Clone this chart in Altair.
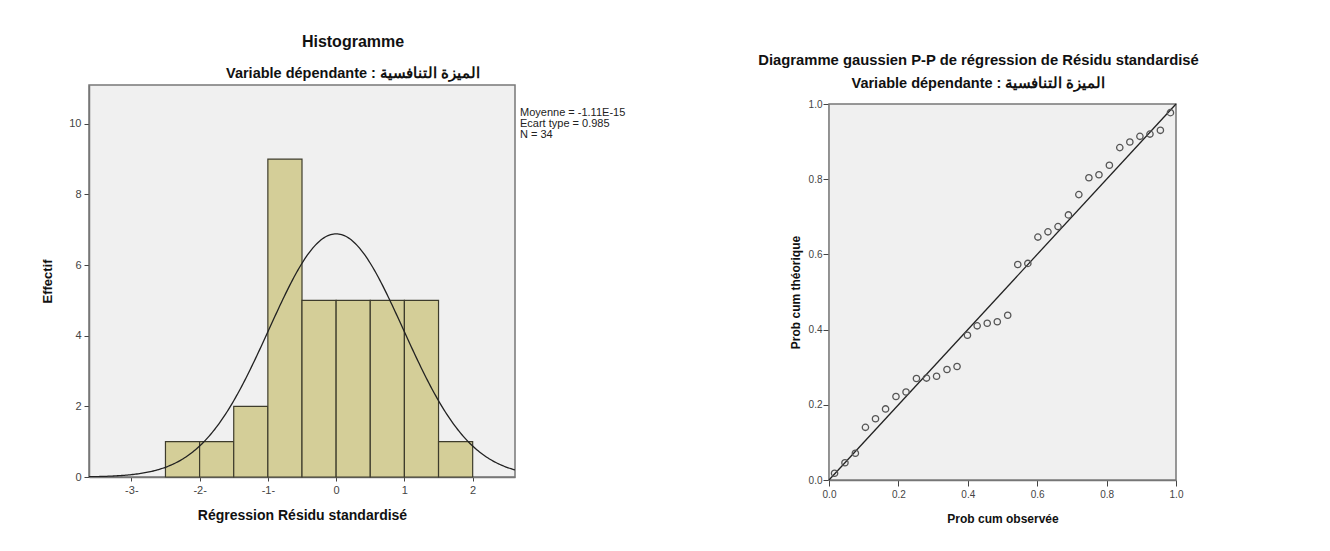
import altair as alt
import pandas as pd

# ---------------- Histogram data ----------------
bin_start = [-2.5, -2.0, -1.5, -1.0, -0.5, 0.0, 0.5, 1.0, 1.5]
bin_end = [-2.0, -1.5, -1.0, -0.5, 0.0, 0.5, 1.0, 1.5, 2.0]
counts = [1, 1, 2, 9, 5, 5, 5, 5, 1]

mean_val = -1.11e-15
sd_val = 0.985
n_val = 34
bin_width = 0.5

stats_lines = ["Moyenne = -1.11E-15", "Ecart type = 0.985", "N = 34"]

hist_x_ticks = [-3, -2, -1, 0, 1, 2]
hist_y_ticks = [0, 2, 4, 6, 8, 10]

# ---------------- P-P plot data ----------------
pp_observed = [0.016, 0.046, 0.076, 0.105, 0.134, 0.163, 0.193, 0.222, 0.252, 0.281,
               0.310, 0.340, 0.369, 0.399, 0.427, 0.456, 0.485, 0.515, 0.544, 0.573,
               0.602, 0.631, 0.660, 0.690, 0.720, 0.749, 0.778, 0.808, 0.838, 0.867,
               0.896, 0.925, 0.955, 0.984]
pp_expected = [0.018, 0.046, 0.071, 0.140, 0.163, 0.189, 0.222, 0.234, 0.270, 0.271,
               0.276, 0.294, 0.302, 0.385, 0.410, 0.417, 0.421, 0.438, 0.573, 0.576,
               0.646, 0.660, 0.674, 0.705, 0.759, 0.804, 0.812, 0.837, 0.884, 0.899,
               0.914, 0.920, 0.930, 0.977]
diag_x = [0.0, 1.0]
diag_y = [0.0, 1.0]
pp_ticks = [0.0, 0.2, 0.4, 0.6, 0.8, 1.0]

FONT = "Liberation Sans"
SUB = "Variable dépendante : الميزة التنافسية"
PLOT_BG = "#F0F0F0"
FRAME = "#777777"

# ---------------- Histogram chart ----------------
HW, HH = 426, 392
x_dom = [-3.62, 2.62]
y_dom = [0, 11.1]

hist_df = pd.DataFrame({"start": bin_start, "end": bin_end, "count": counts})

x_axis = alt.Axis(values=hist_x_ticks, grid=False, title="Régression Résidu standardisé",
                  labelExpr="datum.value < 0 ? '-' + abs(datum.value) + '-' : '' + datum.value",
                  labelFlush=False,
                  labelFontSize=11, labelColor="#444", tickColor="#444", tickSize=4,
                  domainColor=FRAME, domainWidth=1.5, titleFontSize=14, titleFontWeight="bold",
                  titleColor="#111", titlePadding=13, labelPadding=3)
y_axis = alt.Axis(values=hist_y_ticks, grid=False, title="Effectif",
                  labelFontSize=11, labelColor="#444", tickColor="#444", tickSize=5,
                  domainColor=FRAME, domainWidth=1.5, titleFontSize=13, titleFontWeight="bold",
                  titleColor="#111", titlePadding=14, labelPadding=3)

bars = alt.Chart(hist_df).mark_bar(fill="#D4CE98", stroke="#3E3C2C", strokeWidth=1.2).encode(
    x=alt.X("start:Q", scale=alt.Scale(domain=x_dom, nice=False, zero=False), axis=x_axis),
    x2="end:Q",
    y=alt.Y("count:Q", scale=alt.Scale(domain=y_dom, nice=False), axis=y_axis),
    y2=alt.datum(0),
)

curve = alt.Chart(alt.sequence(-3.62, 2.63, 0.02, as_="xv")).transform_calculate(
    dens=f"{n_val * bin_width}/({sd_val}*sqrt(2*PI))*exp(-0.5*pow((datum.xv-({mean_val}))/{sd_val},2))"
).mark_line(color="#222", strokeWidth=1.3, clip=True).encode(
    x="xv:Q", y="dens:Q"
)

stats_df = pd.DataFrame({"t": ["\n".join(stats_lines)]})
stats = alt.Chart(stats_df).mark_text(
    align="left", baseline="top", fontSize=11, font=FONT, color="#222",
    lineBreak="\n", lineHeight=11
).encode(x=alt.value(HW + 5), y=alt.value(22), text="t:N")

hist = alt.layer(bars, curve, stats).properties(
    width=HW, height=HH,
    view=alt.ViewBackground(fill=PLOT_BG, stroke=FRAME, strokeWidth=1.5),
    title=alt.Title("Histogramme", subtitle=SUB, fontSize=16, fontWeight="bold",
                    subtitleFontSize=14.5, subtitleFontWeight="bold", subtitleColor="#111",
                    color="#111", subtitlePadding=16.5, offset=5, dx=51, anchor="middle"),
)

# ---------------- P-P chart ----------------
PW, PH = 347, 376
TOP_GAP = 19          # the P-P frame starts lower than the histogram frame
PH_FULL = PH + TOP_GAP

px_axis = alt.Axis(values=pp_ticks, format=".1f", grid=False, title="Prob cum observée",
                   labelFlush=False,
                   labelFontSize=10, labelColor="#444", tickColor="#444", tickSize=6,
                   domainColor=FRAME, domainWidth=1.5, titleFontSize=12, titleFontWeight="bold",
                   titleColor="#111", titlePadding=14, labelPadding=3)
py_axis = alt.Axis(values=pp_ticks, format=".1f", grid=False, title="Prob cum théorique",
                   labelFontSize=10, labelColor="#444", tickColor="#444", tickSize=6,
                   domainColor=FRAME, domainWidth=1.5, titleFontSize=12, titleFontWeight="bold",
                   titleColor="#111", titlePadding=6, labelPadding=1)

pp_df = pd.DataFrame({"obs": pp_observed, "exp": pp_expected})
diag_df = pd.DataFrame({"dx": diag_x, "dy": diag_y})

x_sc = alt.Scale(domain=[0, 1], nice=False)
y_sc = alt.Scale(domain=[0, 1], nice=False, range=[PH_FULL, TOP_GAP])

frame = alt.Chart(pd.DataFrame({"k": [0]})).mark_rect(
    fill=PLOT_BG, stroke=FRAME, strokeWidth=1.5
).encode(
    x=alt.X(datum=0, type="quantitative", scale=x_sc, axis=px_axis),
    x2=alt.datum(1),
    y=alt.Y(datum=0, type="quantitative", scale=y_sc, axis=py_axis),
    y2=alt.datum(1),
)

points = alt.Chart(pp_df).mark_point(shape="circle", filled=False, size=40,
                                      color="#555", strokeWidth=1.3, opacity=1).encode(
    x=alt.X("obs:Q"),
    y=alt.Y("exp:Q"),
)
diag = alt.Chart(diag_df).mark_line(color="#222", strokeWidth=1.3).encode(x="dx:Q", y="dy:Q")

pp = alt.layer(frame, diag, points).properties(
    width=PW, height=PH_FULL,
    view=alt.ViewBackground(fillOpacity=0, strokeOpacity=0),
    title=alt.Title("Diagramme gaussien P-P de régression de Résidu standardisé",
                    subtitle=SUB, fontSize=14.8, fontWeight="bold",
                    subtitleFontSize=14.5, subtitleFontWeight="bold", subtitleColor="#111",
                    color="#111", subtitlePadding=8.3, offset=-5, dx=-24, anchor="middle"),
)

chart = alt.hconcat(hist, pp, spacing=131).properties(
    padding={"left": 33, "top": 25, "right": 5, "bottom": 5}
).configure(font=FONT, background="white").configure_axis(labelFont=FONT, titleFont=FONT)

chart.save("out.html", embed_options={"renderer": "svg", "actions": False})
